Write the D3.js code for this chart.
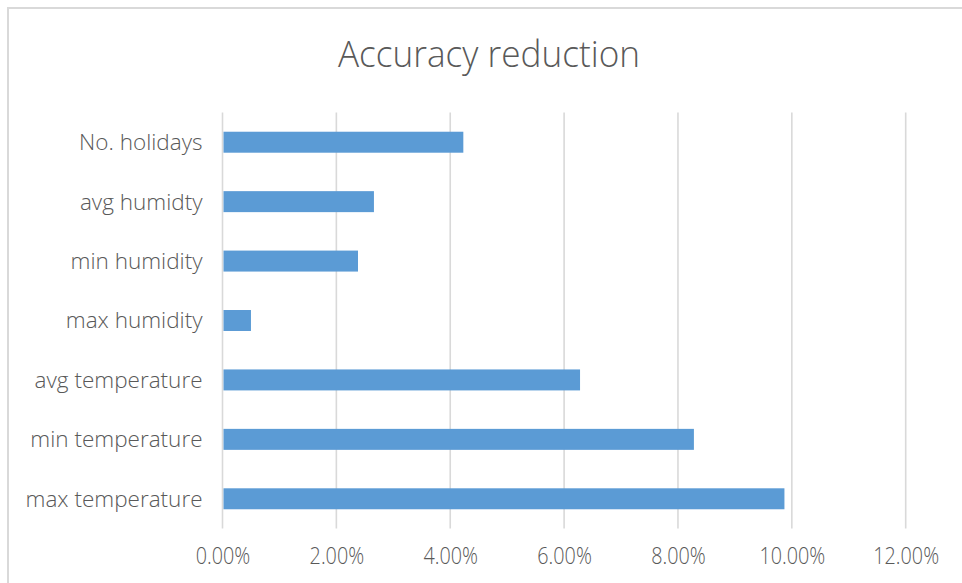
<!DOCTYPE html>
<html>
<head>
<meta charset="utf-8">
<script src="https://cdn.jsdelivr.net/npm/d3@7"></script>
<style>
  html, body { margin: 0; padding: 0; background: #fff; }
  svg { display: block; }
  .title { font-family: "Open Sans", "Noto Sans", sans-serif; font-weight: 300; font-size: 37px; fill: #595959; }
  .cat { font-family: "Open Sans", "Noto Sans", sans-serif; font-weight: 300; font-size: 22.5px; fill: #595959; }
  .tick-label { font-family: "Open Sans", "Noto Sans", sans-serif; font-weight: 300; font-size: 23px; fill: #595959; }
</style>
</head>
<body>
<svg id="chart" width="962" height="583"></svg>
<script>
// Features, top to bottom
const categories = ["No. holidays", "avg humidty", "min humidity", "max humidity", "avg temperature", "min temperature", "max temperature"];
// Accuracy reduction when each feature is removed (fraction)
const reductions = [0.0423, 0.0266, 0.0238, 0.0050, 0.0628, 0.0828, 0.0987];
// Value axis ticks
const xTicks = [0, 0.02, 0.04, 0.06, 0.08, 0.10, 0.12];

const W = 962, H = 583;
const plot = { left: 222.5, right: 905.7, top: 112.5, bottom: 528.5 };

const svg = d3.select("#chart");

// chart frame
svg.append("rect")
  .attr("x", 8).attr("y", 8)
  .attr("width", W + 10).attr("height", H + 10)
  .attr("fill", "#fff").attr("stroke", "#d9d9d9").attr("stroke-width", 2);

const x = d3.scaleLinear().domain([0, 0.12]).range([plot.left, plot.right]);
const y = d3.scaleBand().domain(categories).range([plot.top, plot.bottom]).paddingInner(0.647).paddingOuter(0.3235);

// gridlines
svg.append("g").selectAll("line").data(xTicks).join("line")
  .attr("x1", d => x(d)).attr("x2", d => x(d))
  .attr("y1", plot.top).attr("y2", plot.bottom)
  .attr("stroke", "#d9d9d9").attr("stroke-width", 1.6);

// bars
svg.append("g").selectAll("rect").data(categories).join("rect")
  .attr("x", x(0) + 1)
  .attr("y", d => y(d))
  .attr("width", (d, i) => x(reductions[i]) - x(0) - 1)
  .attr("height", y.bandwidth())
  .attr("fill", "#5b9bd5");

// value axis labels (narrowed horizontally)
const xAxis = d3.axisBottom(x).tickValues(xTicks).tickFormat(d3.format(".2%")).tickSize(0).tickPadding(0);
const gx = svg.append("g").attr("transform", `translate(0,${plot.bottom})`).call(xAxis);
gx.select(".domain").remove();
gx.selectAll("text")
  .attr("class", "tick-label")
  .attr("dy", null).attr("y", 0).attr("fill", null)
  .attr("transform", "translate(0,35) scale(0.86,1)");

// category axis labels
const yAxis = d3.axisLeft(y).tickSize(0).tickPadding(0);
const gy = svg.append("g").attr("transform", `translate(${plot.left - 20},0)`).call(yAxis);
gy.select(".domain").remove();
gy.selectAll("text").attr("class", "cat").attr("dy", "0.35em").attr("fill", null);

// title
const title = svg.append("text").attr("class", "title")
  .attr("x", 489).attr("y", 67)
  .attr("text-anchor", "middle")
  .text("Accuracy reduction");
title.attr("textLength", 302).attr("lengthAdjust", "spacingAndGlyphs");
</script>
</body>
</html>
